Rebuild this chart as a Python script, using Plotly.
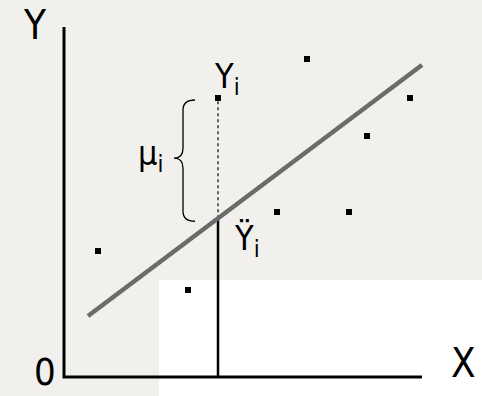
import plotly.graph_objects as go

# Observations
x_obs = [3.4, 12.4, 15.4, 21.3, 24.3, 28.5, 30.3, 34.6]
y_obs = [12.6, 8.7, 27.9, 16.5, 31.8, 16.5, 24.1, 27.9]

# Fitted regression line  Y^ = a + b X
intercept = 4.30
slope = 0.7515
line_x = [2.4, 35.8]
line_y = [intercept + slope * v for v in line_x]

# Highlighted observation i
xi = 15.4
yi = 27.9
yhat_i = intercept + slope * xi

# Axis extents
x_axis_end = 35.8
y_axis_end = 35.0

FONT = "DejaVu Sans Condensed, Roboto, sans-serif"

fig = go.Figure()

# Axes
fig.add_trace(go.Scatter(x=[0, 0, x_axis_end], y=[y_axis_end, 0, 0], mode="lines",
                         line=dict(color="black", width=3), hoverinfo="skip"))
# Vertical from X axis up to the fitted value
fig.add_trace(go.Scatter(x=[xi, xi], y=[0, yhat_i], mode="lines",
                         line=dict(color="black", width=2.5), hoverinfo="skip"))
# Residual (dotted)
fig.add_trace(go.Scatter(x=[xi, xi], y=[yhat_i, yi], mode="lines",
                         line=dict(color="#333333", width=1.5, dash="dot"), hoverinfo="skip"))
# Regression line
fig.add_trace(go.Scatter(x=line_x, y=line_y, mode="lines",
                         line=dict(color="#6b6b6b", width=4.5), hoverinfo="skip"))
# Points
fig.add_trace(go.Scatter(x=x_obs, y=y_obs, mode="markers",
                         marker=dict(symbol="square", size=6, color="black"),
                         hoverinfo="skip"))

# Curly brace spanning the residual
bx = xi - 3.5      # brace spine
tip = bx + 1.2
mid = (yi + yhat_i) / 2
nose = bx - 0.9
top = yi - 0.2
bot = yhat_i - 0.3
brace = (f"M {tip},{top} Q {bx},{top} {bx},{top-1.0} "
         f"L {bx},{mid+1.0} Q {bx},{mid} {nose},{mid} "
         f"Q {bx},{mid} {bx},{mid-1.0} "
         f"L {bx},{bot+1.0} Q {bx},{bot} {tip},{bot}")
fig.add_shape(type="path", path=brace, xref="x", yref="y",
              line=dict(color="black", width=1.3))

# Lighter lower-right patch of the page
fig.add_shape(type="rect", xref="paper", yref="paper", x0=0.33, x1=1.0, y0=0.0, y1=0.293,
              fillcolor="white", line=dict(width=0), layer="below")

def label(txt, x, y, size, xanchor="center", yanchor="middle"):
    fig.add_annotation(x=x, y=y, text=txt, showarrow=False, xref="x", yref="y",
                       xanchor=xanchor, yanchor=yanchor,
                       font=dict(family=FONT, size=size, color="black"))

label("Y", -2.9, 35.2, 40)
label("0", -1.9, -1.85, 38, yanchor="bottom")
label("X", 39.9, 1.4, 40)
label("Y<sub>i</sub>", xi - 0.6, 29.9, 34, xanchor="left")
label("Ÿ<sub>i</sub>", xi + 1.4, 13.7, 34, xanchor="left")
label("μ<sub>i</sub>", nose - 0.9, mid + 0.3, 34, xanchor="right")

fig.update_layout(
    width=482, height=396,
    margin=dict(l=0, r=0, t=0, b=0),
    paper_bgcolor="#f1f0ec", plot_bgcolor="rgba(0,0,0,0)",
    showlegend=False,
    xaxis=dict(range=[-6.4, 41.8], visible=False, fixedrange=True),
    yaxis=dict(range=[-1.9, 37.7], visible=False, fixedrange=True),
)

fig.write_html("out.html")
